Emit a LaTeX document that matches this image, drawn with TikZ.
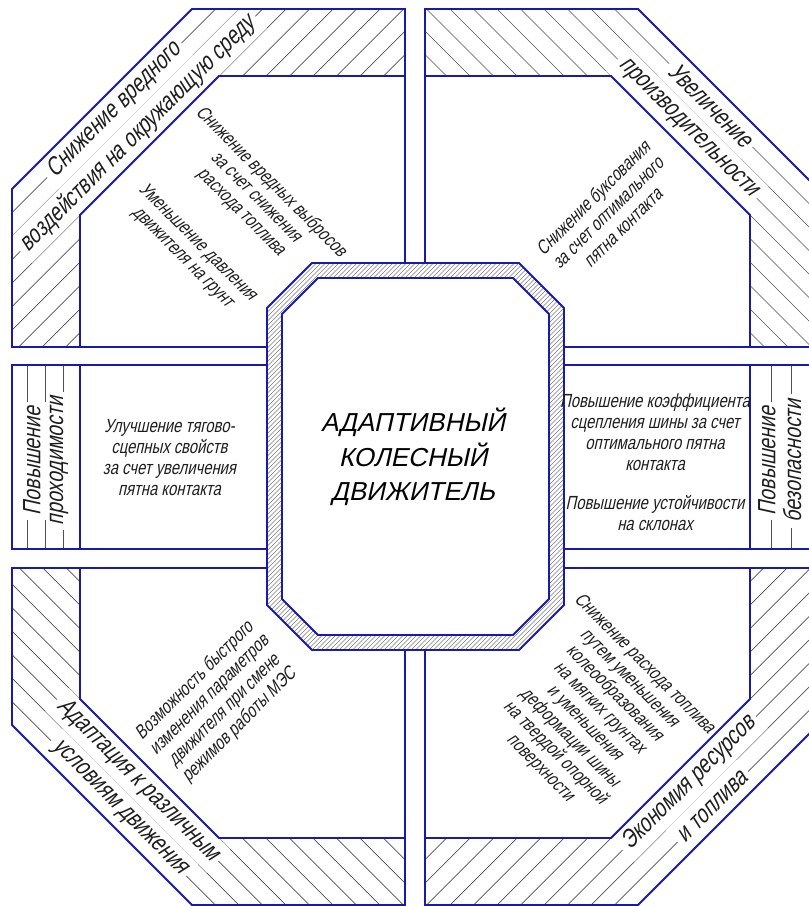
\documentclass[tikz,border=0pt]{standalone}
\usepackage{fontspec}
\newfontfamily\gostfont{Liberation Sans}[FakeSlant=0.22,FakeStretch=0.78]
\newfontfamily\gostcaps{Liberation Sans}[FakeSlant=0.22]
\definecolor{framecol}{RGB}{25,25,170}
\definecolor{hatchcol}{RGB}{80,80,80}
\definecolor{inkcol}{RGB}{30,30,30}
\tikzset{
 frame/.style={draw=framecol,line width=1.9pt},
 hatchline/.style={draw=hatchcol,line width=0.7pt},
 ringline/.style={draw=hatchcol!75,line width=0.45pt},
 bandtext/.style={font=\gostfont\fontsize{25}{33}\selectfont,fill=white,inner xsep=5pt,inner ysep=0pt,minimum height=33.2pt,text=inkcol},
 striptext/.style={bandtext,font=\gostfont\fontsize{25}{27}\selectfont,minimum height=27pt},
 celltext/.style={font=\gostfont\fontsize{19}{21}\selectfont,align=center,text=inkcol},
 headtext/.style={font=\gostcaps\fontsize{26}{34.5}\selectfont,align=center,text=black}
}
\begin{document}
\begin{tikzpicture}[x=1pt,y=-1pt]
\useasboundingbox (0,0) rectangle (809,906);
\begin{scope}
\clip (12,347)--(12,189)--(192,9)--(405,9)--(405,76)--(219,76)--(80,215)--(80,347)--cycle;
\foreach \c in {224.5,248,...,490} \draw[hatchline] (\c,0)--++(-1000,1000);
\end{scope}
\begin{scope}
\clip (425,9)--(638,9)--(818,189)--(818,347)--(750,347)--(750,215)--(611,76)--(425,76)--cycle;
\foreach \c in {323.5,347,...,606} \draw[hatchline] (\c,0)--++(1000,1000);
\end{scope}
\begin{scope}
\clip (12,568)--(12,725)--(192,905)--(405,905)--(405,838)--(219,838)--(80,699)--(80,568)--cycle;
\foreach \c in {-689.5,-666,...,-420} \draw[hatchline] (\c,0)--++(1000,1000);
\end{scope}
\begin{scope}
\clip (818,568)--(818,725)--(638,905)--(425,905)--(425,838)--(611,838)--(750,699)--(750,568)--cycle;
\foreach \c in {1261,1284.5,...,1520} \draw[hatchline] (\c,0)--++(-1000,1000);
\end{scope}
\foreach \c in {27,45,63,771,791,811} \draw[hatchline] (\c,365)--(\c,549);

\foreach \n/\x/\y/\r/\t in {tla/114.25/110.25/45/{Снижение вредного},%
 tlb/137.75/133.75/45/{воздействия на окружающую среду},%
 tra/710.75/105.25/-45/{Увеличение},%
 trb/687.25/128.75/-45/{производительности},%
 bla/137.75/780.25/-45/{Адаптация к различным},%
 blb/118.75/808.25/-45/{условиям движения},%
 bra/689.25/783.25/45/{Экономия ресурсов},%
 brb/712.75/806.75/45/{и топлива}}
 \node[bandtext,rotate=\r] (\n) at (\x,\y) {\t};
\foreach \n/\x/\t in {mla/32/Повышение,mlb/59/проходимости,mra/767/Повышение,mrb/792/безопасности}
 \node[striptext,rotate=90] (\n) at (\x,461) {\t};

\draw[frame] (12,347)--(12,189)--(192,9)--(405,9)--(405,347)--cycle;
\draw[frame] (80,347)--(80,215)--(219,76)--(405,76);
\draw[frame] (425,347)--(425,9)--(638,9)--(818,189)--(818,347)--cycle;
\draw[frame] (425,76)--(611,76)--(750,215)--(750,347);
\draw[frame] (12,568)--(12,725)--(192,905)--(405,905)--(405,568)--cycle;
\draw[frame] (80,568)--(80,699)--(219,838)--(405,838);
\draw[frame] (425,568)--(818,568)--(818,725)--(638,905)--(425,905)--cycle;
\draw[frame] (750,568)--(750,699)--(611,838)--(425,838);
\draw[frame] (12,365) rectangle (300,549) (80,365)--(80,549);
\draw[frame] (530,365) rectangle (818,549) (750,365)--(750,549);

\fill[white] (312,263)--(519,263)--(564,308)--(564,605)--(519,650)--(312,650)--(267,605)--(267,308)--cycle;
\begin{scope}[even odd rule]
\clip (312,263)--(519,263)--(564,308)--(564,605)--(519,650)--(312,650)--(267,605)--(267,308)--cycle
 (318,278)--(513,278)--(549,314)--(549,599)--(513,635)--(318,635)--(282,599)--(282,314)--cycle;
\foreach \c in {530,534.5,...,1215} \draw[ringline] (\c,0)--++(-700,700);
\end{scope}
\draw[frame] (312,263)--(519,263)--(564,308)--(564,605)--(519,650)--(312,650)--(267,605)--(267,308)--cycle;
\draw[frame] (318,278)--(513,278)--(549,314)--(549,599)--(513,635)--(318,635)--(282,599)--(282,314)--cycle;
\node[headtext] (core) at (413,457) {АДАПТИВНЫЙ\\КОЛЕСНЫЙ\\ДВИЖИТЕЛЬ};

\foreach \n/\x/\y/\r/\t in {tlc/256/197/-45/{Снижение вредных выбросов\\за счет снижения\\расхода топлива},%
 tld/190/250/-45/{Уменьшение давления\\движителя на грунт},%
 trc/607.5/212.5/45/{Снижение буксования\\за счет оптимального\\пятна контакта},%
 mlc/169.5/458/0/{Улучшение тягово-\\сцепных свойств\\за счет увеличения\\пятна контакта},%
 mrc/655/432/0/{Повышение коэффициента\\сцепления шины за счет\\оптимального пятна\\контакта},%
 mrd/655/513/0/{Повышение устойчивости\\на склонах},%
 blc/217/703/45/{Возможность быстрого\\изменения параметров\\движителя при смене\\режимов работы МЭС},%
 brc/592/716/-45/{Снижение расхода топлива\\путем уменьшения\\колеообразования\\на мягких грунтах\\и уменьшения\\деформации шины\\на твердой опорной\\поверхности}}
 \node[celltext,rotate=\r] (\n) at (\x,\y) {\t};
\end{tikzpicture}
\end{document}
